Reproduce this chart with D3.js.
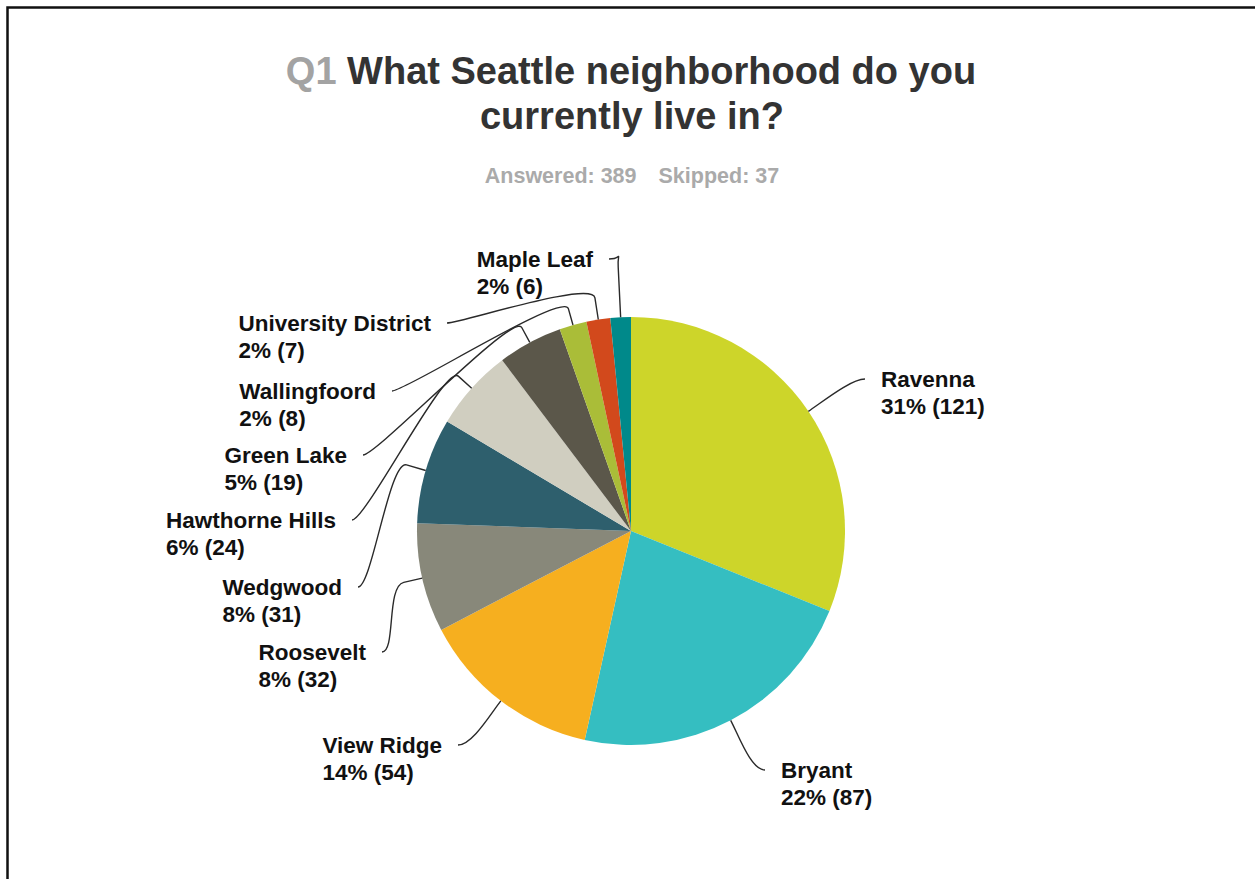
<!DOCTYPE html>
<html>
<head>
<meta charset="utf-8">
<script src="https://cdn.jsdelivr.net/npm/d3@7"></script>
<style>
  html, body { margin: 0; padding: 0; background: #fff; }
  svg { display: block; }
  text { font-family: "Liberation Sans", Arial, sans-serif; }
</style>
</head>
<body>
<svg id="chart" width="1255" height="879"></svg>
<script>
// Survey responses per neighborhood (clockwise from 12 o'clock)
const neighborhoods = ["Ravenna", "Bryant", "View Ridge", "Roosevelt", "Wedgwood",
  "Hawthorne Hills", "Green Lake", "Wallingfoord", "University District", "Maple Leaf"];
const responses = [121, 87, 54, 32, 31, 24, 19, 8, 7, 6];
const percentLabels = ["31%", "22%", "14%", "8%", "8%", "6%", "5%", "2%", "2%", "2%"];
const sliceColors = ["#CDD52A", "#35BEC1", "#F6AF1F", "#88887A", "#2E5F6D",
  "#D0CEC0", "#5B574A", "#AABD38", "#D2491C", "#00898A"];
const answered = 389;
const skipped = 37;

// Label placement: end point of each leader line, and length of the
// radial stub leaving the slice before the line bends toward its label.
const labelLayout = [
  { end: [865, 379], stub: 0,  side: 1 },
  { end: [765, 770], stub: 0,  side: 1 },
  { end: [458, 745], stub: 0,  side: -1 },
  { end: [382, 652], stub: 19, side: -1 },
  { end: [358, 587], stub: 20, side: -1 },
  { end: [352, 520], stub: 18, side: -1 },
  { end: [363, 455], stub: 17, side: -1 },
  { end: [392, 391], stub: 17, side: -1 },
  { end: [447, 323], stub: 22, side: -1 },
  { end: [609, 259], stub: 50, side: -1 }
];

const svg = d3.select("#chart");
const W = 1255, H = 879;
const cx = 631, cy = 531, R = 214;

// frame
svg.append("rect")
  .attr("x", 7.5).attr("y", 7.5)
  .attr("width", W + 20).attr("height", H + 20)
  .attr("fill", "#fff").attr("stroke", "#111").attr("stroke-width", 2.5);

// title
const title = svg.append("text")
  .attr("x", cx).attr("y", 84)
  .attr("text-anchor", "middle")
  .attr("font-size", 38).attr("font-weight", "bold");
title.append("tspan").attr("fill", "#a3a3a3").text("Q1 ");
title.append("tspan").attr("fill", "#333").text("What Seattle neighborhood do you");
svg.append("text")
  .attr("x", cx + 1).attr("y", 129)
  .attr("text-anchor", "middle")
  .attr("font-size", 38).attr("font-weight", "bold")
  .attr("fill", "#333")
  .text("currently live in?");

const sub = svg.append("text")
  .attr("x", cx + 1).attr("y", 183)
  .attr("text-anchor", "middle")
  .attr("font-size", 21.5).attr("font-weight", "bold")
  .attr("fill", "#aaa");
sub.append("tspan").text(`Answered: ${answered}`);
sub.append("tspan").attr("dx", 22).text(`Skipped: ${skipped}`);

// pie
const data = neighborhoods.map((name, i) => ({
  name, value: responses[i], pct: percentLabels[i], color: sliceColors[i], layout: labelLayout[i]
}));

const pie = d3.pie().value(d => d.value).sort(null);
const arc = d3.arc().innerRadius(0).outerRadius(R);
const arcs = pie(data);

const g = svg.append("g").attr("transform", `translate(${cx},${cy})`);
g.selectAll("path.slice")
  .data(arcs)
  .join("path")
  .attr("class", "slice")
  .attr("d", arc)
  .attr("fill", d => d.data.color);

// leader lines and labels
const gap = 16;
const lineG = svg.append("g");
const labelG = svg.append("g");

arcs.forEach(a => {
  const mid = (a.startAngle + a.endAngle) / 2;
  const ux = Math.sin(mid), uy = -Math.cos(mid);
  const L = a.data.layout;
  const p0 = [cx + ux * R, cy + uy * R];
  const p1 = [cx + ux * (R + L.stub), cy + uy * (R + L.stub)];
  const [ex, ey] = L.end;
  const c1 = [p1[0] + ux * 18, p1[1] + uy * 18];
  const c2 = [ex - L.side * 14, ey];
  const path = d3.path();
  path.moveTo(p0[0], p0[1]);
  path.lineTo(p1[0], p1[1]);
  path.bezierCurveTo(c1[0], c1[1], c2[0], c2[1], ex, ey);
  lineG.append("path")
    .attr("d", path.toString())
    .attr("fill", "none")
    .attr("stroke", "#2a2a2a")
    .attr("stroke-width", 1.4);

  const t = labelG.append("text")
    .attr("font-size", 22.5).attr("font-weight", "bold").attr("fill", "#111");
  const l1 = t.append("tspan").text(a.data.name);
  const l2 = t.append("tspan").text(`${a.data.pct} (${a.data.value})`);
  const x0 = L.side > 0 ? ex + gap : ex - gap - l1.node().getComputedTextLength();
  const base = ey + 8;
  l1.attr("x", x0).attr("y", base);
  l2.attr("x", x0).attr("y", base + 27);
});
</script>
</body>
</html>
